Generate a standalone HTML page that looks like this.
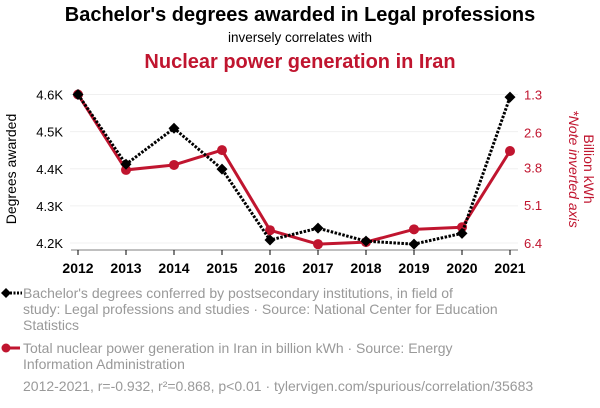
<!DOCTYPE html>
<html><head><meta charset="utf-8"><style>
html,body{margin:0;padding:0;background:#fff;width:600px;height:408px;overflow:hidden;font-family:"Liberation Sans",sans-serif}
</style></head><body>
<svg id="chart" width="600" height="408" xmlns="http://www.w3.org/2000/svg" font-family="Liberation Sans, sans-serif">
<text x="300" y="21" text-anchor="middle" font-size="20" font-weight="bold" fill="#000">Bachelor's degrees awarded in Legal professions</text>
<text x="300" y="42" text-anchor="middle" font-size="13.5" fill="#000">inversely correlates with</text>
<text x="300" y="68" text-anchor="middle" font-size="20" font-weight="bold" fill="#c0152f">Nuclear power generation in Iran</text>
<g id="grid"></g>
<g id="axes"></g>
<g id="series"></g>
<text transform="translate(16,169) rotate(-90)" text-anchor="middle" font-size="14" fill="#000">Degrees awarded</text>
<text transform="translate(584,169) rotate(90)" text-anchor="middle" font-size="14" fill="#c0152f">Billion kWh</text>
<text transform="translate(569,169) rotate(90)" text-anchor="middle" font-size="14" font-style="italic" fill="#c0152f">*Note inverted axis</text>
<g>
<line x1="3" y1="293" x2="22" y2="293" stroke="#000" stroke-width="3" stroke-dasharray="2,1.5"/>
<path d="M6 288 L11 293 L6 298 L1 293Z" fill="#000"/>
<text x="23" y="298" font-size="14" fill="#999">Bachelor's degrees conferred by postsecondary institutions, in field of</text>
<text x="23" y="314" font-size="14" fill="#999">study: Legal professions and studies · Source: National Center for Education</text>
<text x="23" y="330" font-size="14" fill="#999">Statistics</text>
</g>
<g>
<line x1="3" y1="348" x2="20" y2="348" stroke="#c0152f" stroke-width="3"/>
<circle cx="6" cy="348" r="4.5" fill="#c0152f"/>
<text x="23" y="353" font-size="14" fill="#999">Total nuclear power generation in Iran in billion kWh · Source: Energy</text>
<text x="23" y="369" font-size="14" fill="#999">Information Administration</text>
</g>
<text x="23" y="391" font-size="14" fill="#999">2012-2021, r=-0.932, r²=0.868, p&lt;0.01 · tylervigen.com/spurious/correlation/35683</text>
</svg>
<script>
const years = [2012,2013,2014,2015,2016,2017,2018,2019,2020,2021];
const degrees = [4600,4412,4509,4399,4208,4240,4205,4197,4226,4593];
const nuclear = [1.3,3.89,3.72,3.21,5.96,6.44,6.37,5.93,5.86,3.24];
const leftTicks = [4200,4300,4400,4500,4600];
const leftTickLabels = ["4.2K","4.3K","4.4K","4.5K","4.6K"];
const rightTicks = [1.3,2.6,3.8,5.1,6.4];

const NS="http://www.w3.org/2000/svg";
const x0=78,x1=510,yTop=94.5,yBot=243;
function xs(i){return x0+(x1-x0)*i/(years.length-1);}
function yl(v){return yBot-(v-4200)/(4600-4200)*(yBot-yTop);}
function yr(v){return yTop+(v-1.3)/(6.4-1.3)*(yBot-yTop);}
function mk(tag,attrs,parent){const e=document.createElementNS(NS,tag);for(const k in attrs)e.setAttribute(k,attrs[k]);parent.appendChild(e);return e;}
const grid=document.getElementById('grid'),axes=document.getElementById('axes'),ser=document.getElementById('series');

leftTicks.forEach((t,i)=>{
  const g=mk('line',{x1:70,x2:518,y1:yl(t),y2:yl(t),stroke:'#f0f0f0','stroke-width':1},grid);
  
  
  const tx=mk('text',{x:63,y:yl(t)+5,'text-anchor':'end','font-size':13,fill:'#000'},axes);
  tx.textContent=leftTickLabels[i];
  
  
});
rightTicks.forEach(t=>{
  const tx=mk('text',{x:524,y:yr(t)+5,'font-size':13,fill:'#c0152f'},axes);
  tx.textContent=t.toFixed(1);
  
  
});
const base=mk('line',{x1:71,x2:518,y1:250,y2:250,stroke:'#000','stroke-width':0.5},axes);


years.forEach((y,i)=>{
  const tk=mk('line',{x1:xs(i),x2:xs(i),y1:250,y2:255,stroke:'#000','stroke-width':1},axes);
  
  
  const tx=mk('text',{x:xs(i),y:273,'text-anchor':'middle','font-size':14,'font-weight':'bold',fill:'#000'},axes);
  tx.textContent=y;
  
  
});
const rp=mk('polyline',{points:nuclear.map((v,i)=>xs(i)+','+yr(v)).join(' '),fill:'none',stroke:'#c0152f','stroke-width':3,'stroke-linejoin':'round'},ser);


nuclear.forEach((v,i)=>{
  const c=mk('circle',{cx:xs(i),cy:yr(v),r:5,fill:'#c0152f'},ser);
  
  
});
const bp=mk('polyline',{points:degrees.map((v,i)=>xs(i)+','+yl(v)).join(' '),fill:'none',stroke:'#000','stroke-width':3,'stroke-dasharray':'2.5,1.5'},ser);


degrees.forEach((v,i)=>{
  const x=xs(i),y=yl(v);
  const d=mk('path',{d:`M${x} ${y-5.5} L${x+5.5} ${y} L${x} ${y+5.5} L${x-5.5} ${y}Z`,fill:'#000'},ser);
  
  
});
</script>
</body></html>
